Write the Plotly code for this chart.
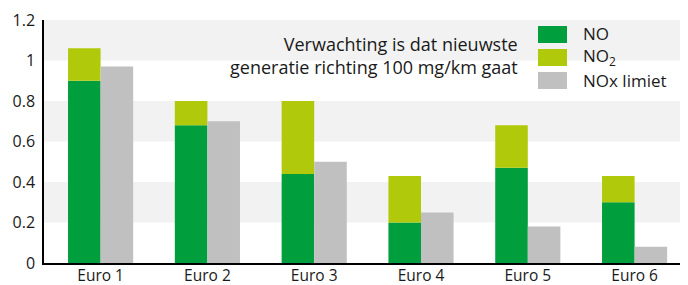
import plotly.graph_objects as go

categories = ["Euro 1", "Euro 2", "Euro 3", "Euro 4", "Euro 5", "Euro 6"]
no_values = [0.90, 0.68, 0.44, 0.20, 0.47, 0.30]
no2_values = [0.16, 0.12, 0.36, 0.23, 0.21, 0.13]
nox_limit = [0.97, 0.70, 0.50, 0.25, 0.18, 0.08]
y_ticks = [0, 0.2, 0.4, 0.6, 0.8, 1.0, 1.2]
y_tick_labels = ["0", "0.2", "0.4", "0.6", "0.8", "1", "1.2"]
legend_labels = ["NO", "NO<sub>2</sub>", "NOx limiet"]

GREEN = "#009e3d"
LIME = "#b0ca0b"
GRAY = "#c0c0c0"
BAND = "#f2f2f2"
FONT = "Open Sans"
TXT = "#1a1a1a"

x_idx = list(range(len(categories)))

fig = go.Figure()
fig.add_bar(x=x_idx, y=no_values, marker_color=GREEN, offsetgroup="a", name="NO",
            marker_line_width=0)
fig.add_bar(x=x_idx, y=no2_values, base=no_values, marker_color=LIME, offsetgroup="a",
            name="NO2", marker_line_width=0)
fig.add_bar(x=x_idx, y=nox_limit, marker_color=GRAY, offsetgroup="b", name="NOx limiet",
            marker_line_width=0)

shapes = []
for lo in [0.2, 0.6, 1.0]:
    shapes.append(dict(type="rect", xref="paper", yref="y", x0=0, x1=1, y0=lo, y1=lo + 0.2,
                       fillcolor=BAND, line_width=0, layer="below"))

# page has an 8px body margin; figure is placed at (8, 8)
OFF = 8
W, H = 688 - OFF, 285 - OFF
ml, mr, mt, mb = 44 - OFF, 0, 20 - OFF, 22
pw, ph = W - ml - mr, H - mt - mb


def px_x(px):
    return (px - OFF - ml) / pw


def px_y(py):
    return 1 - (py - OFF - mt) / ph


legend_colors = [GREEN, LIME, GRAY]
annotations = []
for i, (lab, col) in enumerate(zip(legend_labels, legend_colors)):
    y0 = 26 + i * 23
    shapes.append(dict(type="rect", xref="paper", yref="paper",
                       x0=px_x(538), x1=px_x(567), y0=px_y(y0 + 17), y1=px_y(y0),
                       fillcolor=col, line_width=0, layer="above"))
    annotations.append(dict(xref="paper", yref="paper", x=px_x(581), y=px_y(y0 + 8),
                            text=lab, showarrow=False, xanchor="left", yanchor="middle",
                            font=dict(family=FONT, size=17, color=TXT)))

annotations.append(dict(xref="paper", yref="paper", x=px_x(520), y=px_y(55),
                        text="Verwachting is dat nieuwste<br>generatie richting 100 mg/km gaat",
                        showarrow=False, xanchor="right", yanchor="middle", align="right",
                        font=dict(family=FONT, size=18, color=TXT)))

fig.update_layout(
    width=W, height=H,
    margin=dict(l=ml, r=mr, t=mt, b=mb, autoexpand=False),
    barmode="group", bargap=0.39, bargroupgap=0,
    plot_bgcolor="white", paper_bgcolor="white",
    showlegend=False,
    shapes=shapes, annotations=annotations,
    font=dict(family=FONT, size=16, color=TXT),
)
fig.update_xaxes(range=[-0.53, 5.5], tickvals=x_idx, ticktext=categories,
                 showline=True, linecolor="black", linewidth=1.5, ticks="",
                 showgrid=False, zeroline=False, tickfont=dict(size=15.5), automargin=False,
                 ticklabelstandoff=-2)
fig.update_yaxes(range=[0, 1.2], tickvals=y_ticks, ticktext=y_tick_labels,
                 showline=True, linecolor="black", linewidth=1.5, ticks="",
                 showgrid=False, zeroline=False, tickfont=dict(size=16), ticklabelstandoff=4,
                 automargin=False)

fig.write_html("out.html")
